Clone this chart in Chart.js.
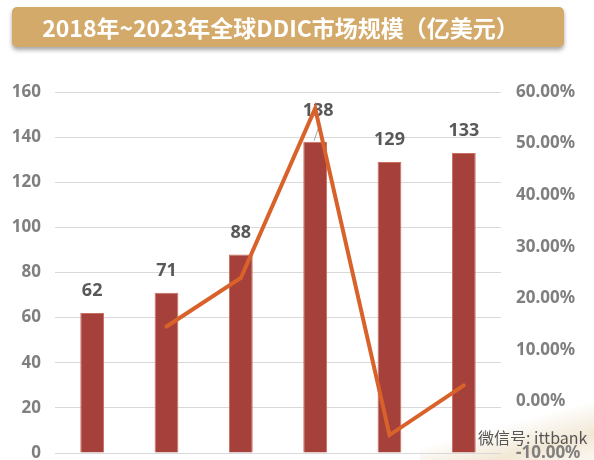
<!DOCTYPE html>
<html>
<head>
<meta charset="utf-8">
<script src="https://cdn.jsdelivr.net/npm/chart.js@4"></script>
<style>
    html, body { margin: 0; padding: 0; background: #fff; }
    body { width: 594px; height: 460px; overflow: hidden; position: relative; }
    #wrap { position: absolute; left: 0; top: 0; width: 594px; height: 490px; }
    .banner {
        position: absolute; left: 12px; top: 7px; width: 552px; height: 40px;
        background: #d4aa6a; border-radius: 5px;
        box-shadow: 0 3px 4px rgba(0, 0, 0, 0.35);
        color: #fff; font: 700 23px "Noto Sans CJK SC", "Noto Sans", sans-serif;
        line-height: 40px; text-align: center; padding-right: 15px; box-sizing: border-box;
    }
    .swoosh {
        position: absolute; left: 420px; top: 400px; width: 200px; height: 80px;
        background: linear-gradient(165deg, rgba(255,255,255,0) 35%, rgba(222,196,150,0.4) 60%, rgba(240,225,200,0.25) 80%);
    }
    .mark {
        position: absolute; left: 478px; top: 425px;
        font: 16px "Noto Sans CJK SC", sans-serif; color: #555;
    }
</style>
</head>
<body>
<div class="swoosh"></div>
<div id="wrap"><canvas id="chart"></canvas></div>
<div class="banner">2018年~2023年全球DDIC市场规模（亿美元）</div>
<div class="mark">微信号: ittbank</div>
<script>
// values
const years = ['2018', '2019', '2020', '2021', '2022', '2023'];
const marketSize = [62, 71, 88, 138, 129, 133];          // 亿美元
const growthRate = [null, 14.52, 23.94, 56.82, -6.52, 3.10]; // %

const BAR = '#a5413a';
const LINE = '#d9622b';
const TICK = '#7f7f7f';

// value labels above bars; the 2021 one is lifted with a small leader line
const barLabels = {
    id: 'barLabels',
    afterDatasetDraw(chart, args) {
        if (args.index !== 0) return;
        const ctx = chart.ctx;
        ctx.save();
        ctx.font = '700 18px "Noto Sans", sans-serif';
        ctx.fillStyle = '#595959';
        ctx.textAlign = 'center';
        ctx.textBaseline = 'bottom';
        args.meta.data.forEach((bar, i) => {
            if (i === 3) {
                ctx.strokeStyle = '#a6a6a6';
                ctx.lineWidth = 1;
                ctx.beginPath();
                ctx.moveTo(bar.x - 1, bar.y - 1);
                ctx.lineTo(bar.x + 3, bar.y - 13);
                ctx.stroke();
                ctx.fillText(marketSize[i], bar.x + 3, bar.y - 22);
            } else {
                ctx.fillText(marketSize[i], bar.x, bar.y - 13);
            }
        });
        ctx.restore();
    }
};

new Chart(document.getElementById('chart'), {
    data: {
        labels: years,
        datasets: [
            {
                type: 'bar',
                data: marketSize,
                backgroundColor: BAR,
                borderColor: '#c9705f',
                borderWidth: 1,
                barPercentage: 0.32,
                categoryPercentage: 1,
                yAxisID: 'y',
                order: 1
            },
            {
                type: 'line',
                data: growthRate,
                borderColor: LINE,
                borderWidth: 4,
                borderCapStyle: 'round',
                borderJoinStyle: 'miter',
                pointRadius: 0,
                tension: 0,
                yAxisID: 'y1',
                order: 0
            }
        ]
    },
    options: {
        responsive: true,
        maintainAspectRatio: false,
        animation: false,
        layout: { padding: { top: 92, bottom: 37, left: 0, right: 0 } },
        plugins: {
            legend: { display: false },
            tooltip: { enabled: false }
        },
        scales: {
            x: { display: false },
            y: {
                position: 'left',
                min: 0,
                max: 160,
                ticks: {
                    stepSize: 20,
                    color: TICK,
                    padding: 14,
                    font: { family: 'Noto Sans', size: 17, weight: '700' }
                },
                grid: { color: '#d9d9d9', drawTicks: false },
                border: { display: false },
                afterFit(axis) { axis.width = 55; }
            },
            y1: {
                position: 'right',
                min: -10,
                max: 60,
                ticks: {
                    stepSize: 10,
                    color: TICK,
                    padding: 15,
                    font: { family: 'Noto Sans', size: 17, weight: '700' },
                    callback: v => v.toFixed(2) + '%'
                },
                grid: { display: false, drawTicks: false },
                border: { display: false },
                afterFit(axis) { axis.width = 93; }
            }
        }
    },
    plugins: [barLabels]
});
</script>
</body>
</html>
